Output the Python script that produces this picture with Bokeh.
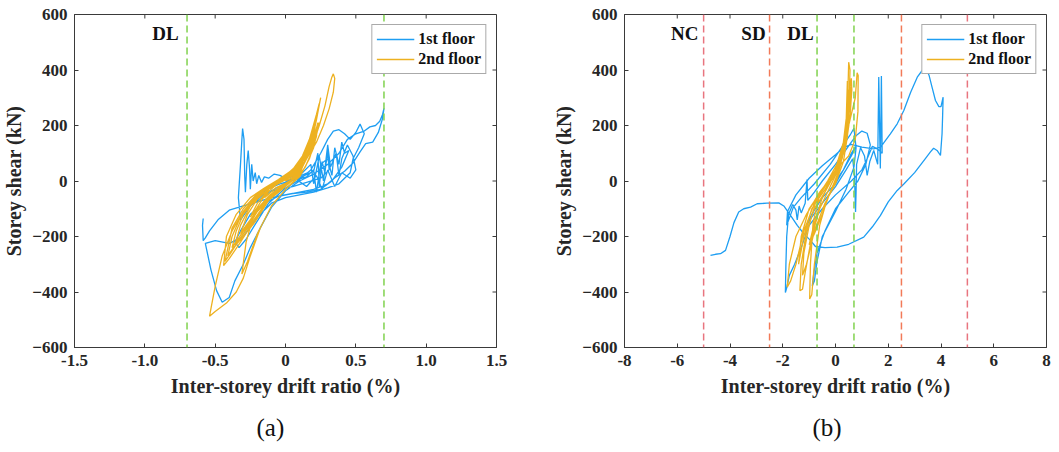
import math
from bokeh.plotting import figure
from bokeh.layouts import row
from bokeh.models import Span, Label, FixedTicker, Range1d, Title
from bokeh.embed import file_html
from bokeh.resources import INLINE

# ---------------- data ----------------
# panel (a): 1st floor
A1_x = [0.00,0.05,0.10,0.16,0.12,0.05,-0.05,-0.12,-0.20,-0.24,
        -0.19,-0.10,0.00,0.10,0.20,0.23,0.24,0.26,0.28,0.30,
        0.31,0.25,0.15,0.05,-0.05,-0.15,-0.25,-0.32,-0.335,-0.32,
        -0.31,-0.305,-0.295,-0.29,-0.285,-0.275,-0.265,-0.255,-0.25,-0.24,
        -0.23,-0.215,-0.205,-0.19,-0.17,-0.15,-0.12,-0.08,-0.04,0.00,
        0.10,0.18,0.20,0.24,0.27,0.30,0.32,0.36,0.38,0.40,
        0.44,0.48,0.50,0.46,0.40,0.35,0.30,0.26,0.22,0.15,
        0.08,0.15,0.20,0.22,0.25,0.30,0.33,0.35,0.38,0.40,
        0.42,0.45,0.40,0.33,0.25,0.15,0.05,-0.05,-0.15,-0.25,
        -0.32,-0.36,-0.33,-0.28,-0.22,-0.12,0.00,0.10,0.18,0.25,
        0.30,0.34,0.38,0.42,0.46,0.50,0.53,0.56,0.52,0.48,
        0.46,0.42,0.38,0.30,0.20,0.10,0.00,-0.10,-0.20,-0.30,
        -0.40,-0.50,-0.57,-0.53,-0.49,-0.45,-0.40,-0.36,-0.30,-0.25,
        -0.18,-0.10,0.00,0.10,0.20,0.30,0.38,0.44,0.50,0.56,
        0.60,0.64,0.67,0.69,0.70,0.69,0.66,0.62,0.57,0.53,
        0.48,0.42,0.36,0.30,0.20,0.10,0.00,-0.10,-0.20,-0.30,
        -0.40,-0.48,-0.54,-0.57,-0.585,-0.59,-0.585]
A1_y = [0,8,18,30,15,3,-12,-28,-55,-85,
        -70,-35,-8,12,35,100,-20,70,30,110,
        40,10,-5,-20,-30,-45,-90,-140,-60,60,
        150,189,150,20,-40,60,110,40,-30,60,
        0,30,-10,20,-5,15,10,25,20,10,
        20,60,-10,90,0,130,50,100,20,80,
        130,90,40,10,30,-20,40,-30,20,-20,
        5,15,40,-40,60,80,20,120,60,140,
        100,110,50,0,-30,-40,-45,-55,-80,-120,
        -180,-220,-240,-210,-160,-80,-25,5,40,100,
        150,180,185,170,150,175,205,170,120,80,
        30,10,-10,-25,-40,-50,-60,-80,-130,-200,
        -225,-215,-225,-320,-395,-437,-420,-360,-300,-240,
        -170,-95,-35,0,25,60,100,150,170,180,
        195,200,215,240,262,225,175,140,135,105,
        65,35,15,-10,-30,-40,-50,-60,-75,-90,
        -105,-140,-180,-205,-215,-160,-135]

# panel (a): 2nd floor
A2_x = [0,0.05,0.10,0.12,0.10,0.05,0.00,-0.07,-0.12,-0.15,
        -0.12,-0.07,0.00,0.06,0.11,0.15,0.17,0.15,0.10,0.04,
        -0.05,-0.12,-0.20,-0.25,-0.20,-0.12,-0.05,0.03,0.10,0.15,
        0.18,0.20,0.18,0.13,0.06,-0.02,-0.10,-0.20,-0.27,-0.32,
        -0.28,-0.20,-0.10,0.00,0.08,0.14,0.19,0.22,0.20,0.15,
        0.08,0.00,-0.10,-0.20,-0.30,-0.35,-0.38,-0.34,-0.25,-0.15,
        -0.05,0.05,0.12,0.18,0.22,0.24,0.22,0.17,0.10,0.02,
        -0.08,-0.20,-0.30,-0.38,-0.43,-0.39,-0.30,-0.20,-0.10,0.00,
        0.10,0.17,0.22,0.25,0.23,0.18,0.12,0.05,-0.05,-0.15,
        -0.25,-0.35,-0.42,-0.44,-0.40,-0.32,-0.22,-0.12,0.00,0.10,
        0.18,0.24,0.28,0.31,0.33,0.34,0.35,0.34,0.31,0.27,
        0.22,0.15,0.08,0.00,-0.10,-0.20,-0.30,-0.38,-0.45,-0.50,
        -0.53,-0.54,-0.50,-0.42,-0.35,-0.30,-0.25,-0.18,-0.10,0.00,
        0.10,0.17,0.22,0.23,0.21,0.15,0.07,-0.03,-0.12,-0.22,
        -0.28,-0.31,-0.27,-0.20,-0.10,0.00,0.08,0.14,0.20,0.24,
        0.22,0.15,0.05,0.00,0.08,0.15,0.20,0.21,0.19,0.13,
        0.05,-0.05,-0.15,-0.25,-0.32,-0.36,-0.32,-0.24,-0.14,-0.04,
        0.06,0.13,0.19,0.23,0.21,0.16,0.09,0.00,-0.10,-0.22,
        -0.32,-0.38,-0.41,-0.37,-0.30,-0.22,-0.12,0.00]
A2_y = [0,12,40,60,45,18,5,-15,-38,-60,
        -48,-25,-8,10,45,90,120,100,50,20,
        -5,-30,-80,-130,-100,-55,-25,-2,30,80,
        130,170,140,80,35,5,-20,-65,-120,-190,
        -160,-105,-50,-15,15,70,150,220,180,110,
        45,15,-15,-55,-120,-180,-240,-210,-145,-75,
        -30,5,50,140,230,280,240,150,65,25,
        -5,-45,-100,-170,-290,-260,-190,-110,-55,-20,
        25,110,220,300,250,160,90,40,5,-25,
        -60,-120,-200,-305,-280,-220,-140,-70,-20,30,
        110,200,270,340,375,386,370,320,260,200,
        140,80,40,15,-15,-50,-110,-180,-270,-380,
        -460,-487,-470,-440,-400,-350,-270,-170,-90,-30,
        15,80,160,210,170,90,40,5,-30,-110,
        -220,-335,-290,-190,-90,-30,10,50,120,210,
        180,90,30,10,25,80,150,195,160,85,
        35,0,-35,-90,-160,-230,-205,-150,-80,-30,
        10,60,150,250,215,130,60,20,-10,-60,
        -130,-200,-270,-240,-200,-150,-70,-10]

# panel (b): 1st floor
B1_x = [0,0.3,0.6,0.8,0.6,0.3,0,-0.5,-0.9,-1.1,
        -0.9,-0.5,0,0.4,0.65,0.72,0.76,0.78,0.8,0.95,
        1.1,1.2,1.3,1.45,1.6,1.64,1.68,1.7,1.74,1.77,
        1.6,1.4,1.2,1.0,0.6,0,-0.5,-1.0,-1.3,-1.55,
        -1.75,-1.85,-1.9,-1.88,-1.85,-1.78,-1.62,-1.5,-1.45,-1.38,
        -1.3,-1.15,-1.08,-1.05,-0.8,-0.5,0,0.3,0.6,0.8,
        1.0,1.2,1.32,1.15,0.85,0.5,0,-0.4,-0.7,-0.82,
        -0.88,-0.8,-0.7,-0.5,0,0.4,0.7,0.78,0.7,0.55,
        0.3,-0.2,-0.8,-1.3,-1.6,-1.85,-1.82,-1.5,-1.0,-0.5,
        0,0.3,0.6,1.0,1.45,1.71,2.08,2.34,2.59,2.85,
        3.1,3.3,3.44,3.55,3.66,3.79,3.92,4.0,4.08,4.06,
        4.04,3.98,3.85,3.72,3.6,3.4,3.0,2.6,2.34,2.0,
        1.7,1.4,1.07,0.5,0.06,-0.4,-0.76,-0.95,-1.2,-1.45,
        -1.7,-1.96,-2.15,-2.6,-2.97,-3.22,-3.48,-3.67,-3.85,-4.0,
        -4.17,-4.36,-4.55,-4.74]
B1_y = [0,40,100,130,90,40,-10,-60,-120,-160,
        -130,-80,-20,40,80,20,-112,-40,60,120,
        90,20,70,110,60,375,150,45,378,100,
        115,125,80,40,0,-50,-100,-160,-240,-300,
        -340,-385,-402,-300,-200,-120,-85,-105,-140,-90,
        -115,-80,5,-70,-40,0,60,100,140,165,
        180,172,130,60,0,-40,-100,-180,-260,-330,
        -378,-360,-290,-200,-110,-30,50,120,190,165,
        130,60,-10,-60,-95,-160,-110,-50,10,55,
        95,120,132,122,116,122,170,206,254,320,
        374,400,404,380,338,290,268,268,302,230,
        170,92,110,118,105,80,30,-10,-34,-75,
        -125,-165,-202,-228,-238,-240,-236,-214,-190,-160,
        -125,-90,-79,-80,-82,-94,-100,-112,-150,-200,
        -250,-262,-264,-268]

# panel (b): 2nd floor
B2_x = [0,0.2,0.35,0.4,0.3,0.1,-0.2,-0.5,-0.8,-1.0,
        -0.8,-0.5,-0.2,0.1,0.3,0.45,0.5,0.55,0.52,0.42,
        0.25,0,-0.4,-0.8,-1.1,-1.3,-1.35,-1.25,-1.15,-0.9,
        -0.6,-0.2,0.1,0.35,0.5,0.6,0.62,0.55,0.4,0.2,
        -0.1,-0.6,-1.1,-1.5,-1.75,-1.83,-1.7,-1.5,-1.2,-0.8,
        -0.4,0,0.3,0.55,0.75,0.82,0.86,0.85,0.75,0.5,
        0.2,-0.2,-0.6,-0.85,-0.95,-0.98,-0.9,-0.8,-0.6,-0.3,
        0,0.2,0.4,0.45,0.5,0.4,0.2,0,-0.4,-0.9,
        -1.2,-1.4,-1.3,-1.0,-0.5,0,0.25,0.42,0.55,0.58,
        0.5,0.3,0.05,-0.3,-0.7,-1.0,-1.2,-1.25,-1.1,-0.8,
        -0.4,0,0.3,0.45,0.52,0.45,0.25,0]
B2_y = [0,60,150,220,140,50,0,-60,-150,-230,
        -190,-120,-40,30,110,250,428,400,300,180,
        90,30,-40,-100,-180,-300,-395,-390,-330,-200,
        -100,-20,40,150,300,370,330,230,130,70,
        20,-40,-120,-200,-300,-383,-360,-300,-180,-80,
        -20,40,120,220,300,390,380,250,150,90,
        60,10,-50,-150,-300,-425,-410,-300,-160,-60,
        0,60,200,360,300,150,70,30,-30,-100,
        -200,-300,-200,-100,-30,20,80,170,280,340,
        260,140,60,0,-60,-160,-260,-340,-300,-180,
        -80,-10,70,160,240,180,90,30]

Y_TICKS = [-600, -400, -200, 0, 200, 400, 600]
XA_TICKS = [-1.5, -1.0, -0.5, 0.0, 0.5, 1.0, 1.5]
XA_LABELS = ["-1.5", "-1.0", "-0.5", "0", "0.5", "1.0", "1.5"]
XB_TICKS = [-8, -6, -4, -2, 0, 2, 4, 6, 8]
XB_LABELS = ["-8", "-6", "-4", "-2", "0", "2", "4", "6", "8"]

SERIES_NAMES = ["1st floor", "2nd floor"]
PANEL_TAGS = ["(a)", "(b)"]

# ---------------- style ----------------
FONT = "Liberation Serif"
BLUE = "#1E9EF2"
ORANGE = "#EDB120"
GREEN = "#80D24E"
RED_NC = "#E8757F"
RED_SD = "#F27A58"
AX = "#3a3a3a"
TICK_LEN = 4


def style_axis(ax, ticks, labels=None):
    ax.ticker = FixedTicker(ticks=ticks)
    ax.minor_tick_line_color = None
    ax.major_tick_in = TICK_LEN
    ax.major_tick_out = 0
    ax.axis_line_color = AX
    ax.major_tick_line_color = AX
    ax.major_label_text_font = FONT
    ax.major_label_text_font_style = "bold"
    ax.major_label_text_font_size = "17px"
    ax.major_label_text_color = "#262626"
    ax.major_label_standoff = 7
    if labels is not None:
        ax.major_label_overrides = {t: l for t, l in zip(ticks, labels)}


def make_panel(width, bl, br, xr, xticks, xlabels, x1, y1, x2, y2, tag_text, tag_offset):
    p = figure(width=width, height=452, output_backend="svg", toolbar_location=None,
               x_range=Range1d(*xr), y_range=Range1d(-600, 600),
               min_border_left=bl, min_border_right=br, min_border_top=14, min_border_bottom=105)
    p.grid.visible = False
    p.outline_line_color = AX
    style_axis(p.xaxis[0], xticks, xlabels)
    style_axis(p.yaxis[0], Y_TICKS)
    p.xaxis[0].axis_label = "Inter-storey drift ratio (%)"
    p.yaxis[0].axis_label = "Storey shear (kN)"
    for ax in (p.xaxis[0], p.yaxis[0]):
        ax.axis_label_text_font = FONT
        ax.axis_label_text_font_style = "bold"
        ax.axis_label_text_font_size = "20px"
        ax.axis_label_text_color = "#262626"
    p.xaxis[0].axis_label_standoff = 6
    p.yaxis[0].axis_label_standoff = 4

    # inward tick marks on the top and right edges of the box
    p.ray(x=xticks, y=[600] * len(xticks), length=TICK_LEN, length_units="screen",
          angle=-math.pi / 2, line_color=AX, line_width=1)
    p.ray(x=[xr[1]] * len(Y_TICKS), y=Y_TICKS, length=TICK_LEN, length_units="screen",
          angle=math.pi, line_color=AX, line_width=1)

    p.line(x1, y1, line_color=BLUE, line_width=1.3, legend_label=SERIES_NAMES[0])
    p.line(x2, y2, line_color=ORANGE, line_width=1.3, legend_label=SERIES_NAMES[1])

    lg = p.legend[0]
    lg.location = "top_right"
    lg.margin = 10
    lg.padding = 4
    lg.spacing = 0
    lg.glyph_width = 38
    lg.glyph_height = 20
    lg.label_height = 20
    lg.label_standoff = 4
    lg.label_text_font = FONT
    lg.label_text_font_style = "bold"
    lg.label_text_font_size = "16px"
    lg.label_text_color = "#111111"
    lg.border_line_color = "#555555"
    lg.border_line_width = 1
    lg.background_fill_alpha = 1.0

    t = Title(text=tag_text, align="left", offset=tag_offset, standoff=24,
              text_font=FONT, text_font_style="normal", text_font_size="25px",
              text_color="#111111")
    p.add_layout(t, "below")
    return p


def vline(p, x, color):
    p.add_layout(Span(location=x, dimension="height", line_color=color,
                      line_dash="7 4", line_width=1.5))


def tag(p, x, text):
    p.add_layout(Label(x=x, y=531, text=text, text_align="right", text_baseline="middle",
                       text_font=FONT, text_font_style="bold", text_font_size="19px",
                       text_color="#111111"))


pa = make_panel(530, 71, 34, (-1.5, 1.5), XA_TICKS, XA_LABELS, A1_x, A1_y, A2_x, A2_y,
                PANEL_TAGS[0], 182)
vline(pa, -0.7, GREEN)
vline(pa, 0.7, GREEN)
tag(pa, -0.76, "DL")

pb = make_panel(523, 94, 7, (-8, 8), XB_TICKS, XB_LABELS, B1_x, B1_y, B2_x, B2_y,
                PANEL_TAGS[1], 188)
vline(pb, -5, RED_NC)
vline(pb, 5, RED_NC)
vline(pb, -2.5, RED_SD)
vline(pb, 2.5, RED_SD)
vline(pb, -0.7, GREEN)
vline(pb, 0.7, GREEN)
tag(pb, -5.2, "NC")
tag(pb, -2.65, "SD")
tag(pb, -0.83, "DL")

layout = row(pa, pb)
open("out.html", "w").write(file_html(layout, INLINE))
